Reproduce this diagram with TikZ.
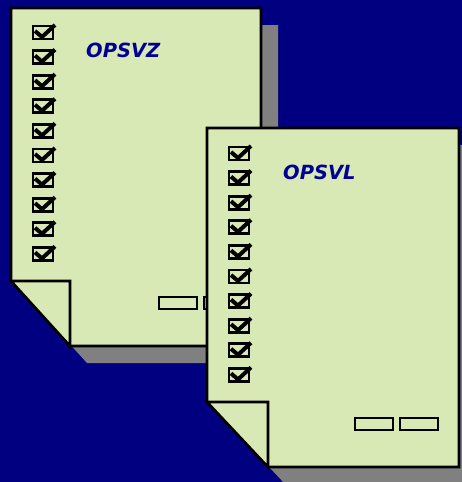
\documentclass[tikz,border=0pt]{standalone}
\usepackage{fontspec}
\newfontfamily\labelfont{DejaVu Sans}
\definecolor{navybg}{RGB}{0,0,128}
\definecolor{pagefill}{RGB}{217,233,181}
\definecolor{shadowgray}{RGB}{128,128,128}
\definecolor{labelblue}{RGB}{0,0,150}
\tikzset{
  pageshape/.style={fill=pagefill,draw=black,line width=2.6pt,line join=miter},
  shadowshape/.style={fill=shadowgray},
  cbox/.style={draw=black,line width=2.8pt,fill=pagefill},
  cmark/.style={draw=black,line width=4pt,line join=miter},
  smallbox/.style={draw=black,line width=2.6pt,fill=pagefill},
  pagelabel/.style={text=labelblue,font=\labelfont\bfseries\itshape\fontsize{19.5}{20}\selectfont,inner sep=0pt,anchor=west}
}
\newcommand{\chkbox}[2]{%
  \draw[cbox] (#1,#2) rectangle ++(20,13);
  \draw[cmark] (#1+2,#2+5) -- (#1+9,#2+11) -- (#1+22,#2-1);
}
\begin{document}
\begin{tikzpicture}[x=1pt,y=-1pt]
\fill[navybg] (0,0) rectangle (462,482);
\useasboundingbox (0,0) rectangle (462,482);
% page 1
\fill[shadowshape,shift={(17,17)}] (11,8) -- (261,8) -- (261,346) -- (70,346) -- (11,281) -- cycle;
\draw[pageshape] (11,8) -- (261,8) -- (261,346) -- (70,346) -- (11,281) -- cycle;
\draw[pageshape] (11,281) -- (70,281) -- (70,346) -- cycle;
\foreach \i in {0,...,9} { \chkbox{33}{26+24.6*\i} }
\node[pagelabel] (lz) at (86,50) {OPSVZ};
\draw[smallbox] (159,297) rectangle (197,309);
\draw[smallbox] (204,297) rectangle (242,309);
% page 2
\fill[shadowshape,shift={(17,17)}] (207,128) -- (459,128) -- (459,467) -- (268,467) -- (207,402) -- cycle;
\draw[pageshape] (207,128) -- (459,128) -- (459,467) -- (268,467) -- (207,402) -- cycle;
\draw[pageshape] (207,402) -- (268,402) -- (268,467) -- cycle;
\foreach \i in {0,...,9} { \chkbox{229}{147+24.6*\i} }
\node[pagelabel] (ll) at (283,172) {OPSVL};
\draw[smallbox] (355,418) rectangle (393,430);
\draw[smallbox] (400,418) rectangle (438,430);
\end{tikzpicture}
\end{document}
